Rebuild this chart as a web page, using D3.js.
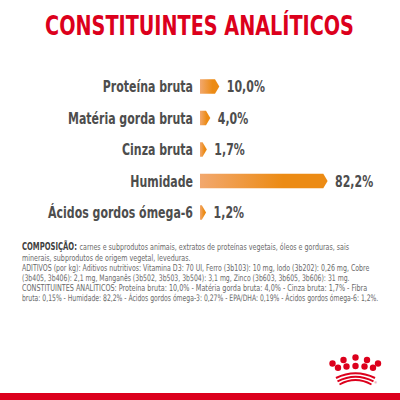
<!DOCTYPE html>
<html><head><meta charset="utf-8">
<script src="https://cdn.jsdelivr.net/npm/d3@7"></script>
<style>html,body{margin:0;padding:0;background:#fff;}svg{display:block;}</style>
</head><body>
<svg id="c" width="400" height="400"></svg>
<script>
const title = "CONSTITUINTES ANALÍTICOS";
const categories = ["Proteína bruta", "Matéria gorda bruta", "Cinza bruta", "Humidade", "Ácidos gordos ómega-6"];
const values = [10.0, 4.0, 1.7, 82.2, 1.2];
const valueLabels = ["10,0%", "4,0%", "1,7%", "82,2%", "1,2%"];
const compositionLead = "COMPOSIÇÃO:";
const compositionLines = [
  " carnes e subprodutos animais, extratos de proteínas vegetais, óleos e gorduras, sais",
  "minerais, subprodutos de origem vegetal, leveduras.",
  "ADITIVOS (por kg): Aditivos nutritivos: Vitamina D3: 70 UI, Ferro (3b103): 10 mg, Iodo (3b202): 0,26 mg, Cobre",
  "(3b405, 3b406): 2,1 mg, Manganês (3b502, 3b503, 3b504): 3,1 mg, Zinco (3b603, 3b605, 3b606): 31 mg.",
  "CONSTITUINTES ANALITICOS: Proteína bruta: 10,0% - Matéria gorda bruta: 4,0% - Cinza bruta: 1,7% - Fibra",
  "bruta: 0,15% - Humidade: 82,2% - Ácidos gordos ómega-3: 0,27% - EPA/DHA: 0,19% - Ácidos gordos ómega-6: 1,2%."
];
const lineWidths = [272, 169, 348, 328, 346, 357];

const FONT = "'Liberation Sans Narrow','DejaVu Sans Condensed','Roboto',sans-serif";
const RED = "#dc001c";
const svg = d3.select("#c");

// place a text at (px,py) and compress it horizontally by factor k (or to width w)
function placeText(parent, px, py, str, opts) {
  const t = parent.append("text").attr("x", 0).attr("y", 0)
    .attr("font-family", FONT).attr("font-size", opts.size)
    .attr("font-weight", opts.bold ? "bold" : "normal")
    .attr("fill", opts.fill).attr("text-anchor", opts.anchor || "start")
    .attr("xml:space", "preserve").text(str);
  const nat = t.node().getComputedTextLength();
  const k = opts.width ? opts.width / nat : opts.k;
  t.attr("transform", `translate(${px},${py}) scale(${k},1)`);
  return t;
}

const defs = svg.append("defs");
const grad = defs.append("linearGradient").attr("id", "g").attr("x1", "0").attr("x2", "1").attr("y1", "0").attr("y2", "0");
grad.append("stop").attr("offset", "0%").attr("stop-color", "#f2a86e");
grad.append("stop").attr("offset", "65%").attr("stop-color", "#ec8b14");
grad.append("stop").attr("offset", "100%").attr("stop-color", "#ec8b14");

// Title
placeText(svg, 199.5, 35, title, {size: 27, bold: true, fill: RED, anchor: "middle", width: 309});

// Scales
const x = d3.scaleLinear().domain([0, 100]).range([200, 350]);
const y = d3.scalePoint().domain(categories).range([86.5, 212.5]);
const bh = 14.5, tip = 4.3;

const rows = svg.append("g").selectAll("g").data(categories).join("g")
  .attr("transform", d => `translate(0,${y(d)})`);

rows.each(function (d, i) {
  const g = d3.select(this);
  placeText(g, 193, 5.8, d, {size: 16.5, bold: true, fill: "#4d4d4d", anchor: "end", k: 0.74});
  g.append("path").attr("fill", "url(#g)")
    .attr("d", () => {
      const x0 = x(0), x1 = x(values[i]);
      return `M${x0},${-bh/2}H${x1}L${x1 + tip},0L${x1},${bh/2}H${x0}Z`;
    });
  placeText(g, x(values[i]) + tip + 7.5, 5.8, valueLabels[i], {size: 16.5, bold: true, fill: "#4d4d4d", k: 0.74});
});

// Composition paragraph
const para = svg.append("g");
const baselines = [250, 260.5, 271, 281, 291, 301];
placeText(para, 22, baselines[0], compositionLead, {size: 10, bold: true, fill: "#3f3f3f", width: 55});
compositionLines.forEach((t, i) => {
  placeText(para, i === 0 ? 77.5 : 22, baselines[i], t, {size: 9, fill: "#6a6a6a", width: lineWidths[i]});
});

// Crown logo
const logo = svg.append("g").attr("fill", RED);
const dots = [[332.5,363.5],[343.5,360],[355.5,357.5],[367,360],[378,363.5],
              [338,367.8],[346.5,366.5],[355.5,366],[364.5,366.5],[373,367.8]];
logo.selectAll("circle").data(dots).join("circle")
  .attr("cx", d => d[0]).attr("cy", d => d[1]).attr("r", 3.2);
const arcs = [[336,378,368.5,2.2],[337.5,381.3,372,2.0],[339.5,384.5,375.5,1.8]];
logo.selectAll("path").data(arcs).join("path").attr("fill", "none").attr("stroke", RED)
  .attr("stroke-width", d => d[3])
  .attr("d", d => `M${d[0]},${d[1]}Q355.5,${d[2]} ${711 - d[0]},${d[1]}`);
logo.append("text").attr("x", 374.5).attr("y", 383.5).attr("font-size", 3.2)
  .attr("font-family", "sans-serif").text("®");

// Bottom band
svg.append("rect").attr("x", 0).attr("y", 393).attr("width", 400).attr("height", 7).attr("fill", RED);
</script>
</body></html>
